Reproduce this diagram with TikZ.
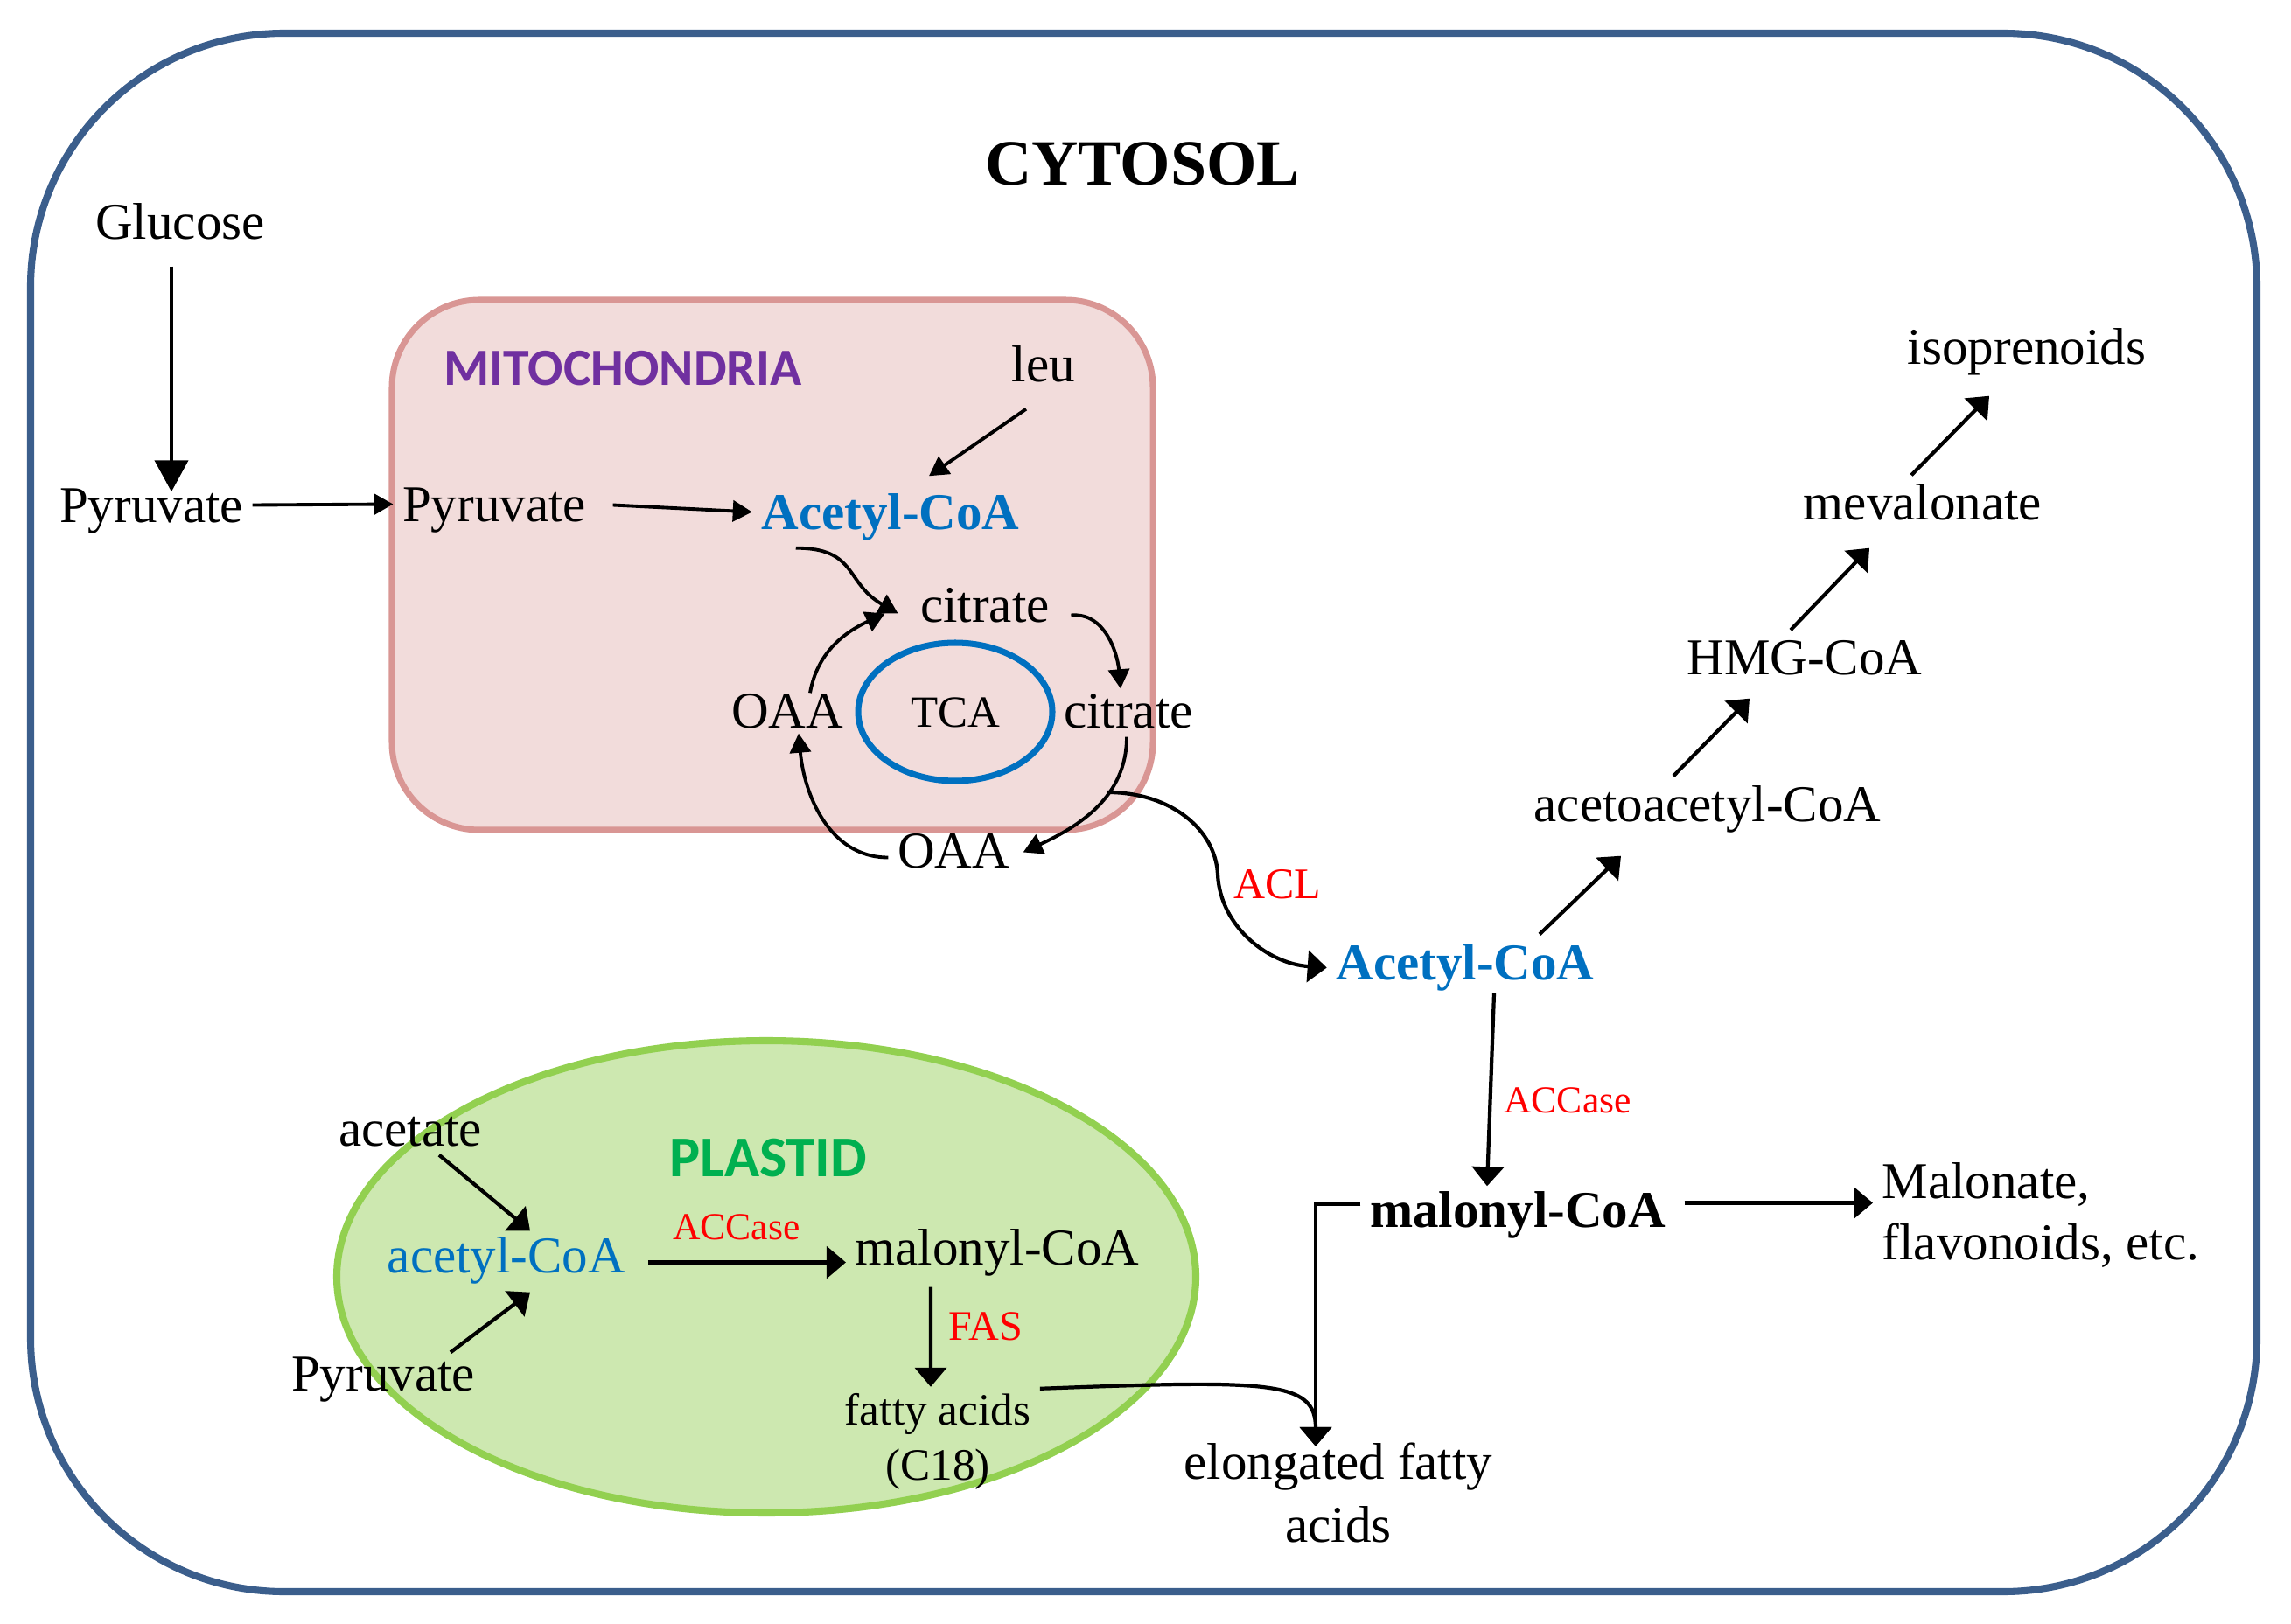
\documentclass[tikz,border=0pt]{standalone}
\usepackage{fontspec}
\setmainfont{Liberation Serif}
\newfontfamily\calib{Carlito}
\usetikzlibrary{arrows.meta}
\definecolor{cytoblue}{HTML}{3B5E8C}
\definecolor{mitoedge}{HTML}{D99694}
\definecolor{mitofill}{HTML}{F2DCDB}
\definecolor{plastedge}{HTML}{92D050}
\definecolor{plastfill}{HTML}{CDE8B0}
\definecolor{coablue}{HTML}{0070C0}
\definecolor{enzred}{HTML}{FF0000}
\definecolor{mitopurple}{HTML}{7030A0}
\definecolor{plastgreen}{HTML}{00B050}

\begin{document}
\begin{tikzpicture}[
    lbl/.style={anchor=base, inner sep=1mm, text height=4.1mm, text depth=0pt, font=\fontsize{16.8}{20}\selectfont},
    boldlbl/.style={lbl, font=\fontsize{16.8}{20}\selectfont\bfseries},
    coa/.style={boldlbl, text=coablue},
    enz/.style={anchor=base, inner sep=1mm, text=enzred, font=\fontsize{12.4}{14}\selectfont},
    compart/.style={anchor=base, inner sep=1mm, font=\calib\bfseries\fontsize{17}{20}\selectfont},
    cytobox/.style={draw=cytoblue, line width=2.3pt, rounded corners=2.9cm},
    mitobox/.style={draw=mitoedge, fill=mitofill, line width=2pt, rounded corners=1cm},
    plastbox/.style={draw=plastedge, fill=plastfill, line width=2.3pt},
    tcaring/.style={draw=coablue, line width=2pt},
    arr/.style={-{Triangle[length=2.2mm,width=3.6mm]}, line width=1.2pt},
    smarr/.style={-{Triangle[length=2.2mm,width=2.4mm]}, line width=1.1pt},
    bigarr/.style={-{Triangle[length=3.6mm,width=3.8mm]}, line width=1.2pt}
  ]
    \useasboundingbox (0,0) rectangle (26.19,-18.57);

    \draw[cytobox] (0.35,-0.38) rectangle (25.80,-18.20);
    \draw[mitobox] (4.48,-3.43) rectangle (13.18,-9.49);
    \draw[plastbox] (8.76,-14.60) ellipse [x radius=4.91, y radius=2.70];
    \draw[tcaring] (10.92,-8.14) ellipse [x radius=1.11, y radius=0.79];

    \node[anchor=base, font=\fontsize{21}{24}\selectfont\bfseries] (cyto) at (13.06,-2.12) {CYTOSOL};
    \node[compart, text=mitopurple] (mitolbl) at (7.12,-4.41) {MITOCHONDRIA};
    \node[compart, text=plastgreen, font=\calib\bfseries\fontsize{18.8}{22}\selectfont] (plastlbl) at (8.78,-13.45) {PLASTID};

    \node[lbl] (glc) at (2.06,-2.74) {Glucose};
    \node[lbl] (pyrc) at (1.73,-5.98) {Pyruvate};
    \node[lbl] (pyrm) at (5.65,-5.97) {Pyruvate};
    \node[lbl] (leu) at (11.93,-4.37) {leu};
    \node[coa] (acm) at (10.18,-6.06) {Acetyl-CoA};
    \node[lbl] (cit1) at (11.26,-7.12) {citrate};
    \node[lbl] (cit2) at (12.90,-8.32) {citrate};
    \node[lbl] (oaa1) at (9.00,-8.32) {OAA};
    \node[lbl] (oaa2) at (10.90,-9.92) {OAA};
    \node[anchor=base, font=\fontsize{14.5}{16}\selectfont] (tca) at (10.92,-8.31) {TCA};

    \node[enz, font=\fontsize{14.2}{16}\selectfont] (acl) at (14.60,-10.27) {ACL};
    \node[coa] (acc) at (16.75,-11.20) {Acetyl-CoA};
    \node[lbl] (aacoa) at (19.52,-9.39) {acetoacetyl-CoA};
    \node[lbl] (hmg) at (20.63,-7.72) {HMG-CoA};
    \node[lbl] (meva) at (21.98,-5.95) {mevalonate};
    \node[lbl] (isop) at (23.17,-4.17) {isoprenoids};
    \node[enz] (accase1) at (17.92,-12.72) {ACCase};
    \node[boldlbl] (malc) at (17.35,-14.03) {malonyl-CoA};
    \node[align=left, anchor=west, inner sep=1mm, font=\fontsize{16.8}{19.9}\selectfont] (malo) at (21.41,-13.90) {Malonate,\\flavonoids, etc.};
    \node[align=center, inner sep=1mm, font=\fontsize{16.8}{20.7}\selectfont] (elong) at (15.30,-17.07) {elongated fatty\\acids};

    \node[lbl] (acet) at (4.69,-13.10) {acetate};
    \node[lbl, text=coablue] (acp) at (5.79,-14.55) {acetyl-CoA};
    \node[lbl] (pyrp) at (4.38,-15.90) {Pyruvate};
    \node[enz] (accase2) at (8.42,-14.17) {ACCase};
    \node[lbl] (malp) at (11.40,-14.46) {malonyl-CoA};
    \node[enz, font=\fontsize{13.7}{16}\selectfont] (fas) at (11.27,-15.32) {FAS};
    \node[align=center, inner sep=1mm, font=\fontsize{14.6}{17.9}\selectfont] (fa) at (10.72,-16.485) {fatty acids\\(C18)};

    \draw[bigarr] ([xshift=-1mm,yshift=-2mm]glc.south) -- ([xshift=-1mm,yshift=-1.6mm]glc.south |- pyrc.north);
    \draw[smarr] (pyrc.east) -- (pyrm.west);
    \draw[smarr, shorten <=2mm] (pyrm.east) -- (acm.west);
    \draw[smarr] ([xshift=-2mm,yshift=-2mm]leu.south) -- ([xshift=4.4mm,yshift=1mm]acm.north);

    \draw[smarr] ([xshift=5mm,yshift=-1mm]acm.south west) to[out=0,in=150,looseness=1.3] ([xshift=-1.5mm,yshift=-1mm]cit1.west);
    \draw[smarr] ([xshift=2.6mm,yshift=-1.2mm]oaa1.north) to[out=80,in=205] ([xshift=-3mm,yshift=-1mm]cit1.west);
    \draw[smarr] ([xshift=1.4mm,yshift=-1.2mm]cit1.east) to[out=5,in=95] ([xshift=-0.9mm,yshift=-0.7mm]cit2.north);
    \draw[smarr] ([xshift=-0.2mm]cit2.south) to[out=-90,in=25] ([xshift=0.5mm,yshift=-0.3mm]oaa2.east);
    \draw[smarr] ([yshift=-0.9mm]oaa2.west) to[out=180,in=-85] ([xshift=1.3mm,yshift=0.4mm]oaa1.south);

    \coordinate (aclfork) at (12.66,-9.06);
    \draw[arr] (aclfork) .. controls (13.4,-9.06) and (13.9,-9.5) .. (13.92,-10.0)
      .. controls (13.95,-10.6) and (14.5,-11.02) .. ([yshift=-0.7mm]acc.west);

    \draw[arr] ([xshift=8.5mm]acc.north) -- ([xshift=-9.9mm,yshift=-2.9mm]aacoa.south);
    \draw[arr] ([xshift=-3.9mm]aacoa.north) -- ([xshift=-6.3mm,yshift=-1.6mm]hmg.south);
    \draw[arr] ([xshift=-1.6mm]hmg.north) -- ([xshift=-6.1mm,yshift=-2.1mm]meva.south);
    \draw[arr] ([xshift=-1.3mm]meva.north) -- ([xshift=-4.3mm,yshift=-2.5mm]isop.south);
    \draw[arr] ([xshift=3.3mm,yshift=-0.5mm]acc.south) -- ([xshift=-3.5mm,yshift=-0.5mm]malc.north);
    \draw[arr] ([xshift=1.1mm,yshift=0.7mm]malc.east) -- ([yshift=0.7mm]malc.east -| malo.west);
    \draw[arr] ([yshift=0.6mm]malc.west) -| ([xshift=-2.6mm,yshift=-1.5mm]elong.north);
    \draw[arr] ([yshift=-0.5mm]fa.north east) .. controls (14.5,-15.78) and (15.04,-15.78) .. ([xshift=-2.6mm,yshift=-1.5mm]elong.north);

    \draw[arr] ([xshift=3.3mm]acet.south) -- ([xshift=2.7mm,yshift=-0.4mm]acp.north);
    \draw[arr] ([xshift=7.7mm,yshift=-0.8mm]pyrp.north) -- ([xshift=2.7mm,yshift=-1.2mm]acp.south);
    \draw[arr, line width=1.5pt] ([xshift=1.5mm,yshift=-0.9mm]acp.east) -- ([yshift=-0.9mm]acp.east -| malp.west);
    \draw[arr] ([xshift=-7.6mm,yshift=-1.5mm]malp.south) -- ([xshift=-0.8mm,yshift=-0.3mm]fa.north);
\end{tikzpicture}
\end{document}
